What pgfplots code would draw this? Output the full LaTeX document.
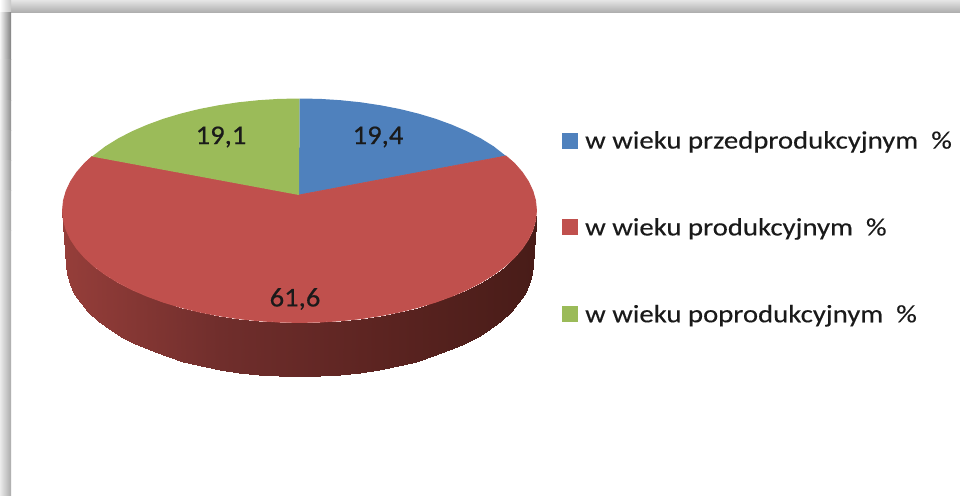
\documentclass[border=0pt]{standalone}
\usepackage{fontspec}
\setmainfont{Carlito}
\newfontfamily\legfont[FakeStretch=1.15,FakeBold=0.3]{Carlito}
\newfontfamily\numfont[FakeStretch=1.06,FakeBold=0.5]{Carlito}
\usepackage{pgfplots}
\pgfplotsset{compat=1.18}
\definecolor{cBlue}{HTML}{4F81BD}
\definecolor{cRed}{HTML}{C0504D}
\definecolor{cGreen}{HTML}{9BBB59}
\definecolor{cText}{HTML}{1A1A1A}
% all coordinates are image pixels, y pointing down
\begin{document}
\begin{tikzpicture}
\begin{axis}[
  scale only axis,width=960pt,height=495pt,
  xmin=0,xmax=960,ymin=0,ymax=495,y dir=reverse,
  hide axis,clip=true,
  colormap={side}{rgb255(0cm)=(150,62,58); rgb255(4cm)=(112,46,44); rgb255(8cm)=(92,36,33); rgb255(12cm)=(72,28,24)},
  point meta min=62,point meta max=537,
  legend cell align=left,
  legend style={at={(axis cs:562,131)},anchor=north west,draw=none,fill=none,inner sep=0pt,
    row sep=68pt,font=\legfont\fontsize{25}{25}\selectfont,text=cText,
    nodes={inner xsep=7pt,inner ysep=0pt}},
  legend image code/.code={\fill[#1,draw=none] (0pt,-8pt) rectangle (16pt,8pt);},
]
% shadow frame: top band, corner, then left band getting lighter downwards
\shade[top color=black!10,bottom color=black!33,draw=none] (axis cs:11,0) rectangle (axis cs:960,13);
\shade[left color=white,right color=black!22,draw=none] (axis cs:0,0) rectangle (axis cs:11,13);
\shade[left color=black!4,right color=black!50,draw=none] (axis cs:0,13) rectangle (axis cs:11,60);
\shade[left color=black!5,right color=black!47,draw=none] (axis cs:0,60) rectangle (axis cs:11,100);
\shade[left color=black!6,right color=black!44,draw=none] (axis cs:0,100) rectangle (axis cs:11,130);
\shade[left color=black!7,right color=black!41,draw=none] (axis cs:0,130) rectangle (axis cs:11,160);
\shade[left color=black!7,right color=black!38,draw=none] (axis cs:0,160) rectangle (axis cs:11,190);
\shade[left color=black!8,right color=black!35,draw=none] (axis cs:0,190) rectangle (axis cs:11,230);
\shade[left color=black!8,right color=black!33,draw=none] (axis cs:0,230) rectangle (axis cs:11,495);

% side wall, angles 0 to 180 degrees, upper and lower rim
\addplot[surf,shader=interp,mesh/rows=37,mesh/cols=2,point meta=x,forget plot] coordinates {
(536.5,210.5) (532.5,264.5)
(535.6,220.3) (531.6,274.3)
(532.9,229.9) (529.0,284.0)
(528.4,239.5) (524.6,293.5)
(522.2,248.8) (518.4,302.8)
(514.3,257.8) (510.7,311.8)
(504.7,266.5) (501.3,320.5)
(493.6,274.7) (490.4,328.7)
(481.0,282.5) (478.0,336.5)
(467.1,289.7) (464.3,343.7)
(451.8,296.3) (449.3,350.3)
(435.4,302.3) (433.1,356.3)
(418.0,307.5) (416.0,361.5)
(399.7,312.0) (398.0,366.0)
(380.6,315.7) (379.2,369.7)
(360.8,318.7) (359.8,372.7)
(340.6,320.8) (339.9,374.8)
(320.2,322.1) (319.8,376.1)
(299.5,322.5) (299.5,376.5)
(278.8,322.1) (279.2,376.1)
(258.4,320.8) (259.1,374.8)
(238.2,318.7) (239.2,372.7)
(218.4,315.7) (219.8,369.7)
(199.3,312.0) (201.0,366.0)
(181.0,307.5) (183.0,361.5)
(163.6,302.3) (165.9,356.3)
(147.2,296.3) (149.7,350.3)
(131.9,289.7) (134.7,343.7)
(118.0,282.5) (121.0,336.5)
(105.4,274.7) (108.6,328.7)
(94.3,266.5) (97.7,320.5)
(84.7,257.8) (88.3,311.8)
(76.8,248.8) (80.6,302.8)
(70.6,239.5) (74.4,293.5)
(66.1,229.9) (70.0,284.0)
(63.4,220.3) (67.4,274.3)
(62.5,210.5) (66.5,264.5)
};

\addplot[fill=cBlue,draw=none] coordinates {
(299,195) (299.5,98.5) (320.2,98.9) (340.6,100.2) (360.8,102.3) (380.6,105.3) (399.7,109)
(418,113.5) (435.4,118.7) (451.8,124.7) (467.1,131.3) (481,138.5) (493.6,146.3) (506,156) (299,195)};
\addlegendentry{w wieku przedprodukcyjnym \ \%}
\addplot[fill=cRed,draw=cRed,line width=0.8pt] coordinates {
(299,195) (506,156) (514.3,163.2) (522.2,172.2) (528.4,181.5) (532.9,191.1) (535.6,200.7)
(536.5,210.5) (535.6,220.3) (532.9,229.9) (528.4,239.5) (522.2,248.8) (514.3,257.8)
(504.7,266.5) (493.6,274.7) (481,282.5) (467.1,289.7) (451.8,296.3) (435.4,302.3)
(418,307.5) (399.7,312) (380.6,315.7) (360.8,318.7) (340.6,320.8) (320.2,322.1)
(299.5,322.5) (278.8,322.1) (258.4,320.8) (238.2,318.7) (218.4,315.7) (199.3,312)
(181,307.5) (163.6,302.3) (147.2,296.3) (131.9,289.7) (118,282.5) (105.4,274.7)
(94.3,266.5) (84.7,257.8) (76.8,248.8) (70.6,239.5) (66.1,229.9) (63.4,220.3)
(62.5,210.5) (63.4,200.7) (66.1,191.1) (70.6,181.5) (76.8,172.2) (84.7,163.2) (92,156.5) (299,195)};
\addlegendentry{w wieku produkcyjnym \ \%}
\addplot[fill=cGreen,draw=none] coordinates {
(299,195) (92,156.5) (105.4,146.3) (118,138.5) (131.9,131.3) (147.2,124.7) (163.6,118.7)
(181,113.5) (199.3,109) (218.4,105.3) (238.2,102.3) (258.4,100.2) (278.8,98.9)
(299.5,98.5) (299,195)};
\addlegendentry{w wieku poprodukcyjnym \ \%}

\node[font=\numfont\fontsize{27}{27}\selectfont,text=cText] at (axis cs:378,137) {19,4};
\node[font=\numfont\fontsize{27}{27}\selectfont,text=cText] at (axis cs:221,137) {19,1};
\node[font=\numfont\fontsize{27}{27}\selectfont,text=cText] at (axis cs:295,299) {61,6};
\end{axis}
\end{tikzpicture}
\end{document}
